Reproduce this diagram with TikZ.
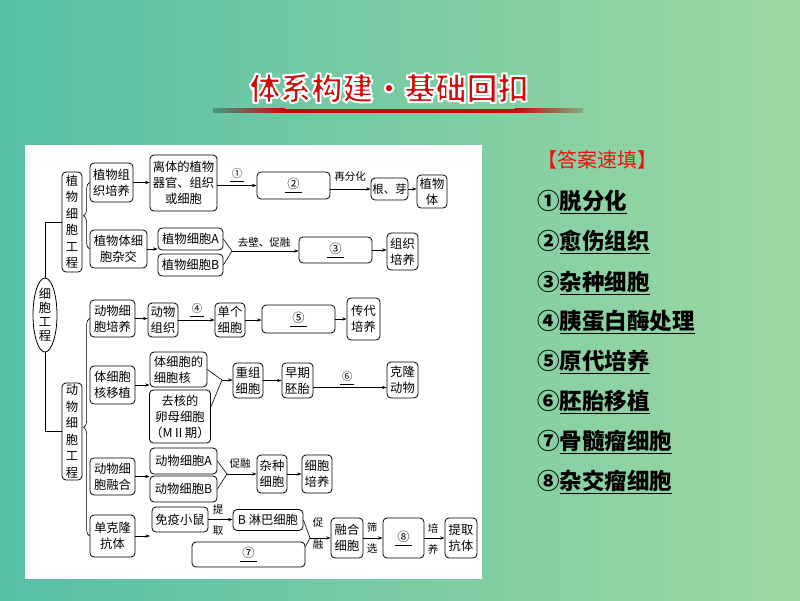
\documentclass[tikz,border=0pt]{standalone}
\usepackage{fontspec}
\newfontfamily\cjk{Noto Sans CJK SC}
\newfontfamily\cjkblack{Noto Sans CJK SC}[UprightFont=* Black]
\usetikzlibrary{shapes.geometric,arrows.meta,decorations.pathreplacing}
\definecolor{bgL}{RGB}{85,191,165}
\definecolor{bgR}{RGB}{158,216,162}
\definecolor{ttlred}{RGB}{210,10,10}
\definecolor{hdred}{RGB}{240,16,16}
\definecolor{barred}{RGB}{205,8,8}
\newcommand\aul[1]{\setbox0\hbox{#1}\leavevmode\rlap{\raisebox{-4.5pt}{\rule{\wd0}{1.1pt}}}\box0}
\newcommand\cul[1]{\setbox0\hbox{\,#1\,}\leavevmode\rlap{\raisebox{-4pt}{\rule{\wd0}{0.7pt}}}\box0}
\newcommand\outlined[1]{\special{pdf:literal direct 1 1 1 RG 2 w 1 j 2 Tr}#1\special{pdf:literal direct 0 Tr 0.4 w}}
\newcommand\ttltext{体系构建\makebox[31pt]{·}基础回扣}
\begin{document}
\begin{tikzpicture}[x=1pt,y=-1pt,
  box/.style={draw,line width=0.8pt,rounded corners=4pt,align=center,inner sep=1pt,font=\cjk\fontsize{12.3}{16}\selectfont},
  lbl/.style={font=\cjk\fontsize{10.5}{12}\selectfont,inner sep=0.5pt},
  arr/.style={line width=0.6pt,-{Stealth[length=4.5pt,width=3.2pt]}},
  ln/.style={line width=0.6pt},
  brc/.style={line width=0.6pt,decorate,decoration={brace,amplitude=6pt}},
  ans/.style={anchor=west,font=\cjk\bfseries\fontsize{22.5}{25}\selectfont,inner sep=0pt},
  ttl/.style={font=\cjkblack\fontsize{31}{34}\selectfont,inner sep=0pt}]
\useasboundingbox (0,0) rectangle (800,600);
% background
\shade[left color=bgL,right color=bgR] (0,0) rectangle (800,600);
% title
\node[ttl,text=ttlred] (title) at (389,88) {\outlined{\ttltext}};
\shade[left color=bgL!80!black,right color=barred] (213,108.5) rectangle (285,112.5);
\fill[barred] (285,108.5) rectangle (515,112.5);
\shade[left color=barred,right color=bgR!80!black] (515,108.5) rectangle (583,112.5);
% white panel
\fill[white] (25,145) rectangle (482,579);

% ---------- root
\node[draw,ellipse,line width=0.8pt,minimum width=24pt,minimum height=74pt,inner xsep=0pt,inner ysep=-6pt,align=center,font=\cjk\fontsize{12.3}{14}\selectfont] (root) at (45,315) {细\\胞\\工\\程};
\node[box,minimum width=20pt,minimum height=100pt,font=\cjk\fontsize{12.3}{16.5}\selectfont] (pe) at (72,222) {植\\物\\细\\胞\\工\\程};
\node[box,minimum width=20pt,minimum height=97pt,font=\cjk\fontsize{12.3}{16.5}\selectfont] (ae) at (72,431.5) {动\\物\\细\\胞\\工\\程};
\draw[ln] (root.north) |- (pe.west);
\draw[ln] (root.south) |- (ae.west);

% ---------- plant
\node[box,minimum width=43pt,minimum height=39pt] (ptc) at (111.5,182.5) {植物组\\织培养};
\node[box,minimum width=67pt,minimum height=56pt] (orig) at (183.5,183) {离体的植物\\器官、组织\\或细胞};
\node[box,minimum width=73pt,minimum height=27pt] (b2) at (293.5,185.5) {\cul{②}};
\node[box,minimum width=37pt,minimum height=22pt,font=\cjk\fontsize{11.5}{14}\selectfont] (rb) at (389.5,189) {根、芽};
\node[box,minimum width=30pt,minimum height=33pt] (plant) at (432,191.5) {植物\\体};
\draw[arr] (ptc.east) -- (ptc.east -| orig.west);
\draw[arr] (orig.east |- b2.west) -- (b2.west);
\node[lbl] (l1) at (237,175) {\cul{①}};
\draw[arr] (b2.east |- rb.west) -- (rb.west);
\node[lbl] (l2) at (350,177) {再分化};
\draw[arr] (rb.east) -- (rb.east -| plant.west);

\node[box,minimum width=57pt,minimum height=38pt] (phyb) at (118.5,249) {植物体细\\胞杂交};
\node[box,minimum width=65pt,minimum height=22pt] (pA) at (190.5,239) {植物细胞A};
\node[box,minimum width=65pt,minimum height=22pt] (pB) at (190.5,265) {植物细胞B};
\node[box,minimum width=73pt,minimum height=26pt] (b3) at (335.5,250) {\cul{③}};
\node[box,minimum width=31pt,minimum height=37pt] (tc) at (402.5,251.5) {组织\\培养};
\draw[arr] (phyb.east) -- (phyb.east -| pA.west);
\coordinate (m1) at (232,251);
\draw[ln] (pA.east) -- (m1) -- (pB.east);
\draw[arr] (m1) -- (m1 -| b3.west);
\node[lbl] (l3) at (264,242) {去壁、促融};
\draw[arr] (b3.east) -- (b3.east -| tc.west);
\draw[brc] (phyb.west) -- (ptc.west);

% ---------- animal: culture
\node[box,minimum width=45pt,minimum height=37pt] (acc) at (112.5,318.5) {动物细\\胞培养};
\node[box,minimum width=30pt,minimum height=34pt] (at) at (163,320) {动物\\组织};
\node[box,minimum width=30pt,minimum height=34pt] (sc) at (230,320) {单个\\细胞};
\node[box,minimum width=73pt,minimum height=28pt] (b5) at (298.5,319) {\cul{⑤}};
\node[box,minimum width=33pt,minimum height=42pt] (pc) at (363.5,319) {传代\\培养};
\draw[arr] (acc.east) -- (acc.east -| at.west);
\draw[arr] (at.east) -- (at.east -| sc.west);
\node[lbl] (l4) at (197,310) {\cul{④}};
\draw[arr] (sc.east) -- (sc.east -| b5.west);
\draw[arr] (b5.east) -- (b5.east -| pc.west);

% ---------- animal: nuclear transfer
\node[box,minimum width=45pt,minimum height=38pt] (nt) at (112.5,385) {体细胞\\核移植};
\node[box,minimum width=57pt,minimum height=35pt,align=left] (soma) at (178.5,369.5) {体细胞的\\细胞核};
\node[box,minimum width=60pt,minimum height=53pt] (ooc) at (180,416.5) {去核的\\卵母细胞\\（MⅡ期）};
\node[box,minimum width=30pt,minimum height=35pt] (rc) at (248,380.5) {重组\\细胞};
\node[box,minimum width=31pt,minimum height=35pt] (ee) at (297.5,380.5) {早期\\胚胎};
\node[box,minimum width=31pt,minimum height=36pt] (clone) at (402.5,380) {克隆\\动物};
\draw[arr] (nt.east) -- (nt.east -| soma.west);
\coordinate (m2) at (222,380);
\draw[ln] (soma.east) -- (m2) -- ([yshift=10pt]ooc.east);
\draw[arr] (m2) -- (m2 -| rc.west);
\draw[arr] (rc.east) -- (rc.east -| ee.west);
\draw[arr] ([yshift=-7pt]ee.east) -- ([yshift=-7pt]ee.east -| clone.west);
\node[lbl] (l6) at (347,378) {\cul{⑥}};

% ---------- animal: fusion
\node[box,minimum width=45pt,minimum height=37pt] (af) at (112.5,476.5) {动物细\\胞融合};
\node[box,minimum width=67pt,minimum height=26pt] (aA) at (183.5,461) {动物细胞A};
\node[box,minimum width=67pt,minimum height=26pt] (aB) at (183.5,489) {动物细胞B};
\node[box,minimum width=30pt,minimum height=38pt] (hyb) at (272,474) {杂种\\细胞};
\node[box,minimum width=30pt,minimum height=38pt] (cc) at (317,474) {细胞\\培养};
\draw[arr] (af.east) -- (af.east -| aA.west);
\coordinate (m3) at (227,474);
\draw[ln] (aA.east) -- (m3) -- (aB.east);
\draw[arr] (m3) -- (m3 -| hyb.west);
\node[lbl] (l7) at (240,464) {促融};
\draw[arr] (hyb.east) -- (hyb.east -| cc.west);

% ---------- animal: monoclonal
\node[box,minimum width=45pt,minimum height=42pt] (mab) at (112.5,536) {单克隆\\抗体};
\node[box,minimum width=56pt,minimum height=25pt] (mouse) at (180,519.5) {免疫小鼠};
\node[box,minimum width=70pt,minimum height=21pt] (Bc) at (268,520) {B 淋巴细胞};
\node[box,minimum width=113pt,minimum height=25pt] (b7) at (248.5,554.5) {\cul{⑦}};
\node[box,minimum width=32pt,minimum height=40pt] (fc) at (347,538) {融合\\细胞};
\node[box,minimum width=41pt,minimum height=40pt] (b8) at (403.5,538) {\cul{⑧}};
\node[box,minimum width=32pt,minimum height=40pt] (ab) at (461,538) {提取\\抗体};
\coordinate (mabEnd) at (150,536);
\draw[arr] (mab.east) -- (mabEnd);
\draw[arr] (mouse.east) -- (mouse.east -| Bc.west);
\node[lbl] (l8) at (218,509.5) {提};
\node[lbl] (l9) at (218,530.5) {取};
\coordinate (m4) at (310,538);
\draw[ln] (Bc.east) -- (m4) -- ([yshift=8pt]b7.east);
\draw[arr] (m4) -- (m4 -| fc.west);
\node[lbl] (l10) at (318,523) {促};
\node[lbl] (l11) at (318,545) {融};
\draw[arr] (fc.east) -- (fc.east -| b8.west);
\node[lbl] (l12) at (372,527) {筛};
\node[lbl] (l13) at (372,549) {选};
\draw[arr] (b8.east) -- (b8.east -| ab.west);
\node[lbl] (l14) at (433,528) {培};
\node[lbl] (l15) at (433,549) {养};
\draw[brc] (mab.west) -- (acc.west);

% ---------- answers
\node[ans,text=hdred,font=\cjk\fontsize{20}{22}\selectfont] (hd) at (537,160) {【答案速填】};
\node[ans] (a1) at (537,202) {①\aul{脱分化}};
\node[ans] (a2) at (537,242) {②\aul{愈伤组织}};
\node[ans] (a3) at (537,283) {③\aul{杂种细胞}};
\node[ans] (a4) at (537,322) {④\aul{胰蛋白酶处理}};
\node[ans] (a5) at (537,362) {⑤\aul{原代培养}};
\node[ans] (a6) at (537,402) {⑥\aul{胚胎移植}};
\node[ans] (a7) at (537,442) {⑦\aul{骨髓瘤细胞}};
\node[ans] (a8) at (537,482) {⑧\aul{杂交瘤细胞}};
\end{tikzpicture}
\end{document}
